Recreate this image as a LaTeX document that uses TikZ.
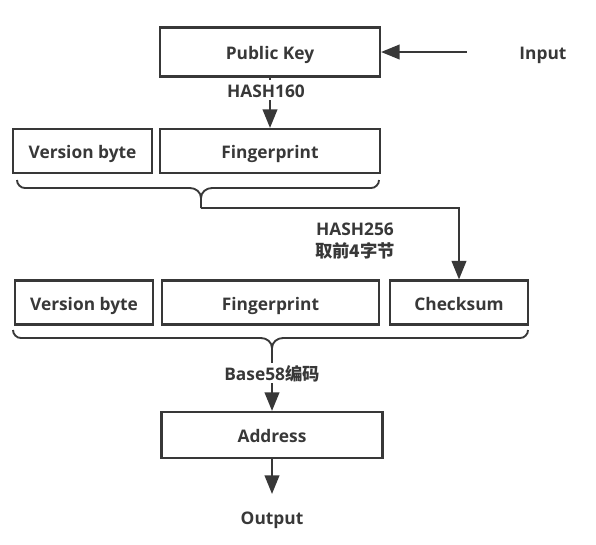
\documentclass[tikz,border=0pt]{standalone}
\usepackage{fontspec}
\setmainfont{Open Sans}
\newfontfamily\cjk{Noto Sans CJK SC}
\usetikzlibrary{arrows.meta}
\definecolor{ink}{HTML}{383838}

\begin{document}
\begin{tikzpicture}[x=0.75pt,y=-0.75pt,font=\bfseries\fontsize{13}{16.5}\selectfont,text=ink]
  \path[use as bounding box] (0,0) rectangle (596,544);
  \tikzset{
    txt/.style={text height=11.5pt,text depth=0pt},
    box/.style={txt,draw=ink,line width=1.6pt,minimum height=33pt,inner sep=0pt},
    arr/.style={draw=ink,line width=1.6pt,-{Triangle[length=14pt,width=11pt]}},
    brc/.style={draw=ink,line width=1.4pt},
    lbl/.style={txt,fill=white,inner sep=1.5pt}}

  % top: key in, hash down
  \node[box,minimum width=165pt,minimum height=36.75pt] (pk) at (270,52) {Public Key};
  \node[txt] (in) at (543,52) {Input};
  \draw[arr,shorten <=36pt] (in) -- (pk);

  \node[box,minimum width=104.25pt] (vb1) at (82.5,151) {Version byte};
  \node[box,minimum width=165pt] (fp1) at (270,151) {Fingerprint};
  \draw[arr] (pk) -- (fp1);
  \node[lbl] (h160) at (266,90) {HASH160};

  % first brace, checksum branch
  \draw[brc] (17,180) to[out=-90,in=180] (25,188) -- (190,188) to[out=0,in=90] (201,198) -- (201,208)
    (201,198) to[out=90,in=180] (212,188) -- (371,188) to[out=0,in=-90] (379,180);
  \coordinate (t1) at (201,208);

  \node[box,minimum width=103.5pt] (vb2) at (84,302.5) {Version byte};
  \node[box,minimum width=162.75pt] (fp2) at (270.5,302.5) {Fingerprint};
  \node[box,minimum width=103.5pt] (cs) at (459,302.5) {Checksum};
  \draw[arr] (t1) -| (cs);
  \node[align=center] (h256) at (355,241) {HASH256\\{\cjk 取前4字节}};

  % second brace, encode to address
  \draw[brc] (13,330) to[out=-90,in=180] (21,338) -- (261,338) to[out=0,in=90] (272,348) -- (272,355)
    (272,348) to[out=90,in=180] (283,338) -- (520,338) to[out=0,in=-90] (528,330);
  \coordinate (t2) at (272,355);

  \node[box,minimum width=165.75pt,minimum height=34.5pt] (addr) at (272,435) {Address};
  \draw[arr] (t2) -- (addr);
  \node[lbl] (b58) at (272,373) {Base58{\cjk 编码}};

  \node[txt] (out) at (272,517) {Output};
  \draw[arr,shorten >=8pt] (addr) -- (out);
\end{tikzpicture}
\end{document}
